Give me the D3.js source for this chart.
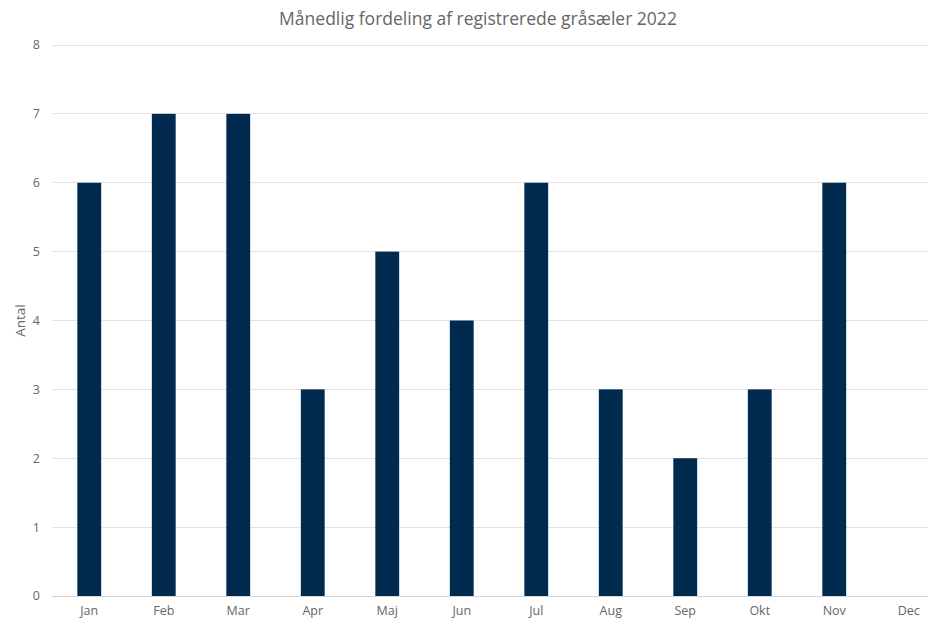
<!DOCTYPE html>
<html>
<head>
<meta charset="utf-8">
<script src="https://cdn.jsdelivr.net/npm/d3@7"></script>
<style>
  html, body { margin: 0; padding: 0; background: #fff; }
  svg { display: block; font-family: "Open Sans", "Noto Sans", sans-serif; }
</style>
</head>
<body>
<svg id="chart" width="928" height="619"></svg>
<script>
// Monthly counts of registered grey seals, 2022
const months = ["Jan", "Feb", "Mar", "Apr", "Maj", "Jun", "Jul", "Aug", "Sep", "Okt", "Nov", "Dec"];
const counts = [6, 7, 7, 3, 5, 4, 6, 3, 2, 3, 6, 0];
const yTicks = [0, 1, 2, 3, 4, 5, 6, 7, 8];
const title = "Månedlig fordeling af registrerede gråsæler 2022";
const yLabel = "Antal";

const W = 928, H = 619;
const svg = d3.select("#chart");

const x = d3.scaleBand()
  .domain(months)
  .range([52, 946])
  .paddingInner(0.68)
  .paddingOuter(0.34);

const y = d3.scaleLinear().domain([0, 8]).range([596, 45]);

// gridlines
svg.append("g")
  .selectAll("line")
  .data(yTicks)
  .join("line")
  .attr("x1", 52)
  .attr("x2", W)
  .attr("y1", d => y(d))
  .attr("y2", d => y(d))
  .attr("stroke", d => d === 0 ? "#d4d4d4" : "#e2e2e2")
  .attr("stroke-width", 1)
  .attr("shape-rendering", "crispEdges");

// y tick labels
svg.append("g")
  .selectAll("text")
  .data(yTicks)
  .join("text")
  .attr("x", 40)
  .attr("y", d => y(d))
  .attr("dy", "0.35em")
  .attr("text-anchor", "end")
  .attr("font-size", 12.5)
  .attr("fill", "#666")
  .text(d => d);

// bars
svg.append("g")
  .selectAll("rect")
  .data(months.map((m, i) => ({ m, v: counts[i] })))
  .join("rect")
  .attr("x", d => x(d.m))
  .attr("width", x.bandwidth())
  .attr("y", d => y(d.v))
  .attr("height", d => y(0) - y(d.v))
  .attr("fill", "#002B4E");

// x labels
svg.append("g")
  .selectAll("text")
  .data(months)
  .join("text")
  .attr("x", d => x(d) + x.bandwidth() / 2)
  .attr("y", 615)
  .attr("text-anchor", "middle")
  .attr("font-size", 12.5)
  .attr("fill", "#666")
  .text(d => d);

// y-axis title
svg.append("text")
  .attr("transform", `translate(25, ${(y(0) + y(8)) / 2}) rotate(-90)`)
  .attr("text-anchor", "middle")
  .attr("font-size", 13.5)
  .attr("fill", "#666")
  .text(yLabel);

// chart title
svg.append("text")
  .attr("x", 478)
  .attr("y", 25)
  .attr("text-anchor", "middle")
  .attr("font-size", 17.5)
  .attr("fill", "#666")
  .text(title);
</script>
</body>
</html>
